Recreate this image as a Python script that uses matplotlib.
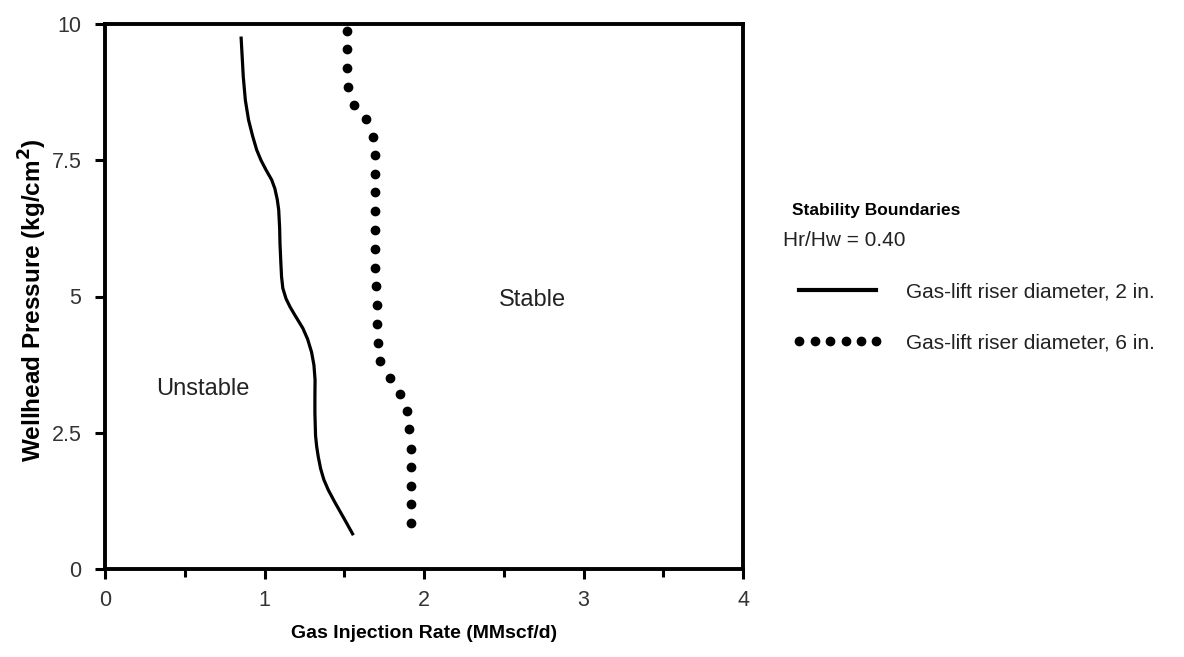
import matplotlib
matplotlib.use("Agg")
import matplotlib.pyplot as plt
from matplotlib.lines import Line2D
from matplotlib.ticker import MultipleLocator

plt.rcParams['font.family'] = ['Liberation Sans', 'DejaVu Sans']

# Stability boundary, 2 in. riser (solid line)
riser2_rate = [0.853, 0.860, 0.867, 0.880, 0.900, 0.925, 0.951, 0.978, 1.010, 1.045,
               1.065, 1.080, 1.089, 1.095, 1.097, 1.102, 1.107, 1.115, 1.135, 1.160,
               1.190, 1.240, 1.270, 1.295, 1.310, 1.317, 1.316, 1.316, 1.320, 1.327,
               1.337, 1.352, 1.372, 1.400, 1.440, 1.500, 1.557]
riser2_pressure = [9.77, 9.40, 9.03, 8.60, 8.24, 7.95, 7.69, 7.50, 7.32, 7.14,
                   6.98, 6.78, 6.59, 6.25, 5.98, 5.65, 5.36, 5.15, 4.96, 4.81,
                   4.66, 4.42, 4.22, 3.98, 3.74, 3.47, 3.15, 2.86, 2.45, 2.25,
                   2.06, 1.84, 1.64, 1.45, 1.23, 0.92, 0.62]

# Stability boundary, 6 in. riser (dotted)
riser6_rate = [1.515, 1.515, 1.515, 1.526, 1.561, 1.636, 1.682, 1.693, 1.693, 1.693,
               1.693, 1.693, 1.693, 1.693, 1.700, 1.703, 1.703, 1.710, 1.724, 1.787,
               1.849, 1.891, 1.908, 1.916, 1.916, 1.916, 1.916, 1.916]
riser6_pressure = [9.88, 9.54, 9.19, 8.85, 8.51, 8.25, 7.93, 7.60, 7.25, 6.91,
                   6.56, 6.22, 5.88, 5.53, 5.19, 4.84, 4.50, 4.15, 3.81, 3.51,
                   3.22, 2.90, 2.56, 2.21, 1.87, 1.53, 1.19, 0.84]

x_ticks = [0, 1, 2, 3, 4]
y_ticks = [0, 2.5, 5, 7.5, 10]
y_tick_labels = ['0', '2.5', '5', '7.5', '10']

fig = plt.figure(figsize=(11.84, 6.57), dpi=100)
ax = fig.add_axes([105 / 1184, 1 - 569 / 657, (743 - 105) / 1184, (569 - 24) / 657])

ax.plot(riser2_rate, riser2_pressure, color='black', lw=2.3, solid_capstyle='butt',
        solid_joinstyle='round')
ax.plot(riser6_rate, riser6_pressure, ls='none', marker='o', ms=6.0, color='black')

ax.set_xlim(0, 4)
ax.set_ylim(0, 10)
ax.set_xticks(x_ticks)
ax.xaxis.set_minor_locator(MultipleLocator(0.5))
ax.set_yticks(y_ticks)
ax.set_yticklabels(y_tick_labels)

for s in ax.spines.values():
    s.set_linewidth(2.8)
ax.tick_params(axis='both', which='major', direction='out', length=7, width=2.2,
               labelsize=15.5, labelcolor='#333333')
ax.tick_params(axis='x', which='major', pad=8)
ax.tick_params(axis='y', which='major', pad=10)
ax.tick_params(axis='x', which='minor', direction='out', length=6, width=2.2)

ax.set_xlabel('Gas Injection Rate (MMscf/d)', fontsize=14, fontweight='bold')
ax.xaxis.set_label_coords(0.5, (569 - 633) / 545)
ax.xaxis.label.set_va('center')
ax.set_ylabel('Wellhead Pressure (kg/cm$^{\\mathbf{2}}$)', fontsize=17.5, fontweight='bold')
ax.yaxis.set_label_coords((33 - 105) / 638, (569 - 300) / 545)
ax.yaxis.label.set_va('center')

ax.text(0.614, 3.30, 'Unstable', fontsize=17, ha='center', va='center', color='#222222')
ax.text(2.677, 4.94, 'Stable', fontsize=17, ha='center', va='center', color='#222222')

fig.text(792 / 1184, 1 - 210 / 657, 'Stability Boundaries', fontsize=12.5,
         fontweight='bold', ha='left', va='center')
fig.text(783 / 1184, 1 - 240 / 657, 'Hr/Hw = 0.40', fontsize=15, ha='left', va='center',
         color='#222222')

handles = [Line2D([], [], color='black', lw=3.0),
           Line2D([], [], ls='none', marker='o', ms=6.0, color='black')]
labels = ['Gas-lift riser diameter, 2 in.', 'Gas-lift riser diameter, 6 in.']
fig.legend(handles, labels, loc='center left', bbox_to_anchor=(793 / 1184, 1 - 317.5 / 657),
           frameon=False, fontsize=15, handlelength=4.3, handletextpad=1.1,
           labelspacing=1.55, borderpad=0, borderaxespad=0, numpoints=6,
           labelcolor='#222222')

fig.savefig('out.png', dpi=100)
